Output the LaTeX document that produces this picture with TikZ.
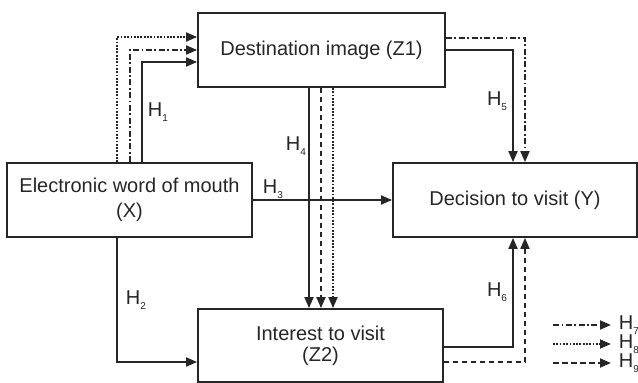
\documentclass[tikz,border=0pt]{standalone}
\usepackage{fontspec}
\setmainfont{Liberation Sans}
\usetikzlibrary{arrows.meta}
\newcommand{\hlab}[1]{H\raisebox{-0.45ex}{\fontsize{10}{10}\selectfont #1}}
\begin{document}
\begin{tikzpicture}[x=1pt,y=-1pt,
    line width=1.8pt, draw=black!85, text=black!85,
    varbox/.style={draw, rectangle, align=center, inner sep=0pt, font=\fontsize{20}{25}\selectfont},
    arr/.style={-{Triangle[length=11pt,width=9pt]}},
    dashdot/.style={dash pattern=on 6pt off 2.5pt on 1.8pt off 2.5pt},
    dots/.style={dash pattern=on 1.8pt off 1.5pt},
    dashes/.style={dash pattern=on 5.5pt off 3.5pt},
    hlabel/.style={font=\fontsize{20}{20}\selectfont, inner sep=0pt}]
    \useasboundingbox (0,0) rectangle (638,383);
    % boxes
    \node[varbox, minimum width=247pt, minimum height=74pt] (Z1) at (321.5,50) {Destination image (Z1)};
    \node[varbox, minimum width=245pt, minimum height=74pt] (X) at (129.5,200) {Electronic word of mouth\\(X)};
    \node[varbox, minimum width=244pt, minimum height=74pt] (Y) at (515,200) {Decision to visit (Y)};
    \node[varbox, minimum width=245pt, minimum height=73pt, font=\fontsize{20}{21}\selectfont] (Z2) at (320.5,345.5) {Interest to visit\\(Z2)};
    % X -> Z1
    \draw[arr] ([xshift=12.5pt]X.north) |- ([yshift=-12pt]Z1.west);
    \draw[arr,dashdot] ([xshift=0.5pt]X.north) |- (Z1.west);
    \draw[arr,dots] ([xshift=-12.5pt]X.north) |- ([yshift=13pt]Z1.west);
    % X -> Z2, X -> Y
    \draw[arr] ([xshift=-12.5pt]X.south) |- ([yshift=-16.5pt]Z2.west);
    \draw[arr] (X.east) -- (Y.west);
    % Z1 -> Z2
    \draw[arr] ([xshift=-12.5pt]Z1.south) -- ([xshift=-11.5pt]Z2.north);
    \draw[arr,dashes] ([xshift=-0.5pt]Z1.south) -- ([xshift=0.5pt]Z2.north);
    \draw[arr,dots] ([xshift=11.5pt]Z1.south) -- ([xshift=12.5pt]Z2.north);
    % Z1 -> Y
    \draw[arr] (Z1.east) -| ([xshift=-2pt]Y.north);
    \draw[arr,dashdot] ([yshift=12pt]Z1.east) -| ([xshift=10pt]Y.north);
    % Z2 -> Y
    \draw[arr] ([yshift=-1.5pt]Z2.east) -| ([xshift=-2pt]Y.south);
    \draw[arr,dashes] ([yshift=-16.5pt]Z2.east) -| ([xshift=10pt]Y.south);
    % labels
    \node[hlabel] (h1) at (158,112) {\hlab{1}};
    \node[hlabel] (h2) at (136,300) {\hlab{2}};
    \node[hlabel] (h3) at (273,189) {\hlab{3}};
    \node[hlabel] (h4) at (296,146) {\hlab{4}};
    \node[hlabel] (h5) at (497,101) {\hlab{5}};
    \node[hlabel] (h6) at (497,292) {\hlab{6}};
    % legend
    \node[hlabel, anchor=west] (h7) at (618,325) {\hlab{7}};
    \node[hlabel, anchor=west] (h8) at (618,344) {\hlab{8}};
    \node[hlabel, anchor=west] (h9) at (618,363) {\hlab{9}};
    \coordinate (l7) at (553,325);
    \coordinate (l8) at (553,344);
    \coordinate (l9) at (553,363);
    \draw[arr,dashdot] (l7) -- ([xshift=-7pt]h7.west);
    \draw[arr,dots] (l8) -- ([xshift=-7pt]h8.west);
    \draw[arr,dashes] (l9) -- ([xshift=-7pt]h9.west);
\end{tikzpicture}
\end{document}
